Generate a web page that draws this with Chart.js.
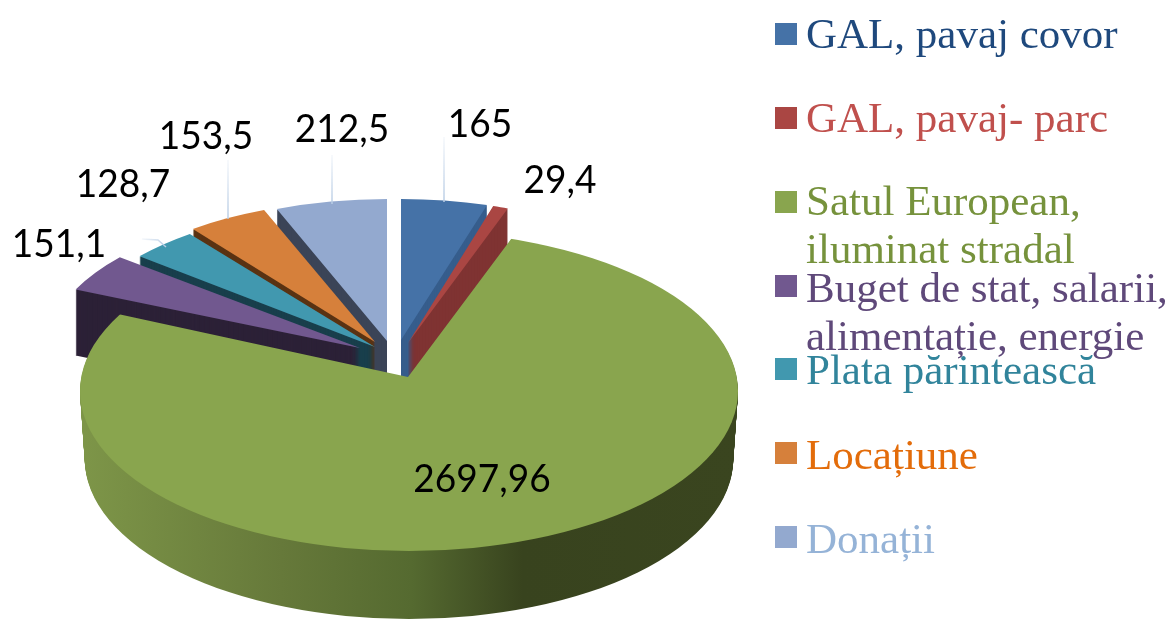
<!DOCTYPE html>
<html lang="ro">
<head>
    <meta charset="UTF-8">
    <title>Surse de finanțare</title>
    <script src="https://cdn.jsdelivr.net/npm/chart.js"></script>
    <style>
        html, body { margin: 0; padding: 0; background: #fff; }
        canvas { display: block; }
    </style>
</head>
<body>
    <canvas id="grafic" width="1168" height="619"></canvas>

    <script>
        // Datele graficului
        const categorii = [
            ['GAL, pavaj covor'],
            ['GAL, pavaj- parc'],
            ['Satul European,', 'iluminat stradal'],
            ['Buget de stat, salarii,', 'alimentație, energie'],
            ['Plata părintească'],
            ['Locațiune'],
            ['Donații']
        ];
        const valori = [165, 29.4, 2697.96, 151.1, 128.7, 153.5, 212.5];

        // Culori: fata de sus, fata laterala, textul din legenda
        const culoriSus = ['#4572a7', '#aa4643', '#89a54e', '#71588f', '#4198af', '#d6803b', '#93a9cf'];
        const culoriLaterale = ['#365d8c', '#7f3332', '#56692f', '#2c2137', '#193f4c', '#5a3313', '#3b4457'];
        const culoriText = ['#1f497d', '#c0504d', '#76923c', '#5f497a', '#31849b', '#e36c0a', '#95b3d7'];

        // Pozitia fiecarei felii pe ecran (varf si raze), ca la un pie 3D explodat
        const felii = [
            { x: 401, y: 340, rx: 298, ry: 141 },
            { x: 408, y: 343, rx: 295, ry: 143 },
            { x: 408, y: 377, rx: 374, ry: 180 },
            { x: 360, y: 348, rx: 312, ry: 142 },
            { x: 375, y: 347, rx: 306, ry: 142 },
            { x: 375, y: 342, rx: 301, ry: 142 },
            { x: 387, y: 341, rx: 299, ry: 142 }
        ];
        const ordine = [6, 5, 4, 3, 0, 1, 2]; // din spate in fata
        const INDEX_VERDE = 2;
        const marginea = { x: 409, y: 391, rx: 329, ry: 160 };
        const ADANCIME = 66;
        const ADANCIME_VERDE = 68;

        // Etichete si liniile lor
        const pozEtichete = [[480, 124], [560, 180], [482, 479], [59, 244], [123, 184], [206, 136], [342, 129]];
        const linii = [
            [[444, 137], [444, 202]],
            [[332, 155], [332, 204]],
            [[228, 160], [228, 219]],
            [[142, 239], [158, 240], [166, 247]]
        ];

        // Legenda
        const legendaPatrat = [23, 107, 191, 275, 358, 442, 526];
        const legendaRanduri = [[48], [132], [215, 263], [302, 350], [384], [469], [553]];

        function deseneazaArc(ctx, arc, felie, culoare, dy) {
            const R = arc.outerRadius;
            const opt = arc.options;
            arc.options = Object.assign({}, opt, { backgroundColor: culoare, borderWidth: 0 });
            ctx.save();
            ctx.translate(felie.x, felie.y + dy);
            ctx.scale(felie.rx / R, felie.ry / R);
            ctx.translate(-arc.x, -arc.y);
            arc.draw(ctx);
            ctx.restore();
            arc.options = opt;
        }

        function clipMargine(ctx, dy) {
            ctx.beginPath();
            ctx.ellipse(marginea.x, marginea.y + dy, marginea.rx - dy * 0.07, marginea.ry, 0, 0, Math.PI * 2);
            ctx.clip();
        }

        const pie3d = {
            id: 'pie3d',
            beforeDatasetsDraw(chart) {
                const ctx = chart.ctx;
                const arce = chart.getDatasetMeta(0).data;

                ordine.forEach(i => {
                    const arc = arce[i];
                    const felie = felii[i];
                    if (i === INDEX_VERDE) {
                        // gradientul e in coordonatele arcului, nu ale ecranului
                        const sx = felie.rx / arc.outerRadius;
                        const px = x => (x - felie.x) / sx + arc.x;
                        const grad = ctx.createLinearGradient(px(85), 0, px(738), 0);
                        grad.addColorStop(0, '#7d9548');
                        grad.addColorStop(0.3, '#66793a');
                        grad.addColorStop(0.5, '#556a30');
                        grad.addColorStop(0.67, '#38431e');
                        grad.addColorStop(1, '#3a451f');
                        for (let k = ADANCIME_VERDE; k >= 1; k--) {
                            ctx.save();
                            clipMargine(ctx, k);
                            deseneazaArc(ctx, arc, felie, grad, k);
                            ctx.restore();
                        }
                        ctx.save();
                        clipMargine(ctx, 0);
                        deseneazaArc(ctx, arc, felie, culoriSus[i], 0);
                        ctx.restore();
                    } else {
                        for (let k = ADANCIME; k >= 1; k--) {
                            deseneazaArc(ctx, arc, felie, culoriLaterale[i], k);
                        }
                        deseneazaArc(ctx, arc, felie, culoriSus[i], 0);
                    }
                });
                return false;
            },
            afterDraw(chart) {
                const ctx = chart.ctx;
                ctx.save();

                // linii de legatura
                ctx.lineWidth = 1.5;
                linii.forEach(l => {
                    const a = l[0], b = l[l.length - 1];
                    const grad = ctx.createLinearGradient(a[0], a[1], b[0], b[1]);
                    grad.addColorStop(0, 'rgba(185,205,229,0.15)');
                    grad.addColorStop(1, '#b9cde5');
                    ctx.strokeStyle = grad;
                    ctx.beginPath();
                    l.forEach((p, j) => j ? ctx.lineTo(p[0], p[1]) : ctx.moveTo(p[0], p[1]));
                    ctx.stroke();
                });

                // etichete (Lato putin ingustat, cifrele din original sunt mai inalte)
                ctx.font = '39px Lato';
                ctx.fillStyle = '#000';
                ctx.textAlign = 'center';
                ctx.textBaseline = 'middle';
                valori.forEach((v, i) => {
                    const t = String(v).replace('.', ',');
                    ctx.fillText(t, pozEtichete[i][0], pozEtichete[i][1], ctx.measureText(t).width * 0.95);
                });

                // legenda
                ctx.font = '43px "Liberation Serif"';
                ctx.textAlign = 'left';
                ctx.textBaseline = 'alphabetic';
                categorii.forEach((randuri, i) => {
                    ctx.fillStyle = culoriSus[i];
                    ctx.fillRect(775, legendaPatrat[i], 22, 22);
                    ctx.fillStyle = culoriText[i];
                    randuri.forEach((t, j) => ctx.fillText(t, 806, legendaRanduri[i][j]));
                });
                ctx.restore();
            }
        };

        new Chart(document.getElementById('grafic'), {
            type: 'pie',
            data: {
                labels: categorii.map(c => c.join(' ')),
                datasets: [{ data: valori, backgroundColor: culoriSus, borderWidth: 0 }]
            },
            options: {
                responsive: false,
                animation: false,
                plugins: { legend: { display: false }, tooltip: { enabled: false } }
            },
            plugins: [pie3d]
        });
    </script>
</body>
</html>
